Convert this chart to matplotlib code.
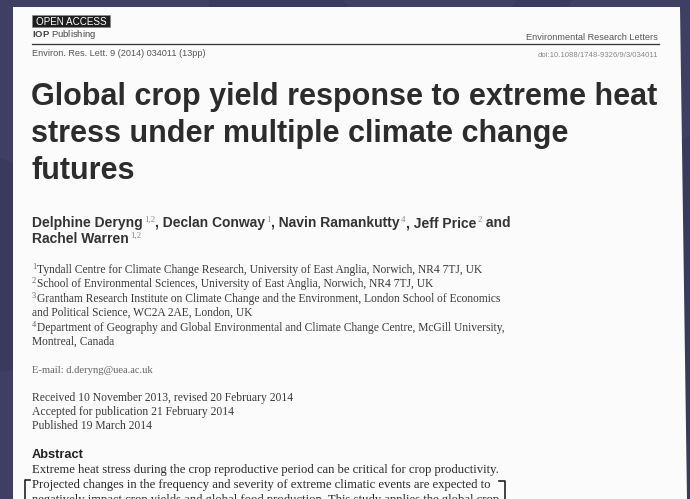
import matplotlib.pyplot as plt
from matplotlib.patches import Polygon, Circle, Rectangle

# text content of the page
header_left = [r"$\mathbf{IOP}$ Publishing", "Environ. Res. Lett. 9 (2014) 034011 (13pp)"]
header_right = ["Environmental Research Letters", "doi:10.1088/1748-9326/9/3/034011"]
title_lines = ["Global crop yield response to extreme heat",
               "stress under multiple climate change",
               "futures"]
# authors: (name, affiliation marks) per line
author_lines = [[("Delphine Deryng", "1,2"), (", Declan Conway", "1"),
                 (", Navin Ramankutty", "4"), (", Jeff Price", "2"), (" and", "")],
                [("Rachel Warren", "1,2")]]
affil_marks = ["1", "2", "3", "", "4", ""]
affil_lines = ["Tyndall Centre for Climate Change Research, University of East Anglia, Norwich, NR4 7TJ, UK",
               "School of Environmental Sciences, University of East Anglia, Norwich, NR4 7TJ, UK",
               "Grantham Research Institute on Climate Change and the Environment, London School of Economics",
               "and Political Science, WC2A 2AE, London, UK",
               "Department of Geography and Global Environmental and Climate Change Centre, McGill University,",
               "Montreal, Canada"]
email = "E-mail: d.deryng@uea.ac.uk"
dates = ["Received 10 November 2013, revised 20 February 2014",
         "Accepted for publication 21 February 2014",
         "Published 19 March 2014"]
abstract_lines = ["Extreme heat stress during the crop reproductive period can be critical for crop productivity.",
                  "Projected changes in the frequency and severity of extreme climatic events are expected to",
                  "negatively impact crop yields and global food production. This study applies the global crop"]

plt.rcParams['mathtext.fontset'] = 'custom'
plt.rcParams['mathtext.rm'] = 'Liberation Sans'
plt.rcParams['mathtext.bf'] = 'Liberation Sans:bold'

bg = '#3a3a5c'
fig = plt.figure(figsize=(6.9, 4.99), dpi=100, facecolor=bg)
ax = fig.add_axes([0, 0, 1, 1])
ax.set_xlim(0, 690)
ax.set_ylim(499, 0)
ax.axis('off')
ax.set_facecolor(bg)

# faint decorative circles behind the page
for cx, cy, r in [(60, 20, 150), (430, -50, 100), (640, 60, 90), (20, 480, 110)]:
    ax.add_patch(Circle((cx, cy), r, facecolor='#45456a', edgecolor='none', alpha=0.5, zorder=0))

# the page
ax.add_patch(Polygon([(13, 7), (680, 7), (687, 499), (13, 499)], closed=True,
                     facecolor='#fbfbfb', edgecolor='none', zorder=1))

sans = 'Liberation Sans'
serif = 'Liberation Serif'
grey = '#3a3a3a'

# header
ax.add_patch(Rectangle((32, 15), 78, 12, facecolor='#1e1e1e', edgecolor='#888', lw=0.5, zorder=2))
ax.text(71, 25, "OPEN ACCESS", color='white', fontsize=7.1, family=sans,
        ha='center', va='baseline', zorder=3)
ax.text(32, 37, header_left[0], color='#444', fontsize=6.8, family=sans, va='baseline', zorder=3)
ax.text(32, 56, header_left[1], color='#555', fontsize=6.6, family=sans, va='baseline', zorder=3)
ax.text(658, 40, header_right[0], color='#555', fontsize=6.6, family=sans, ha='right', va='baseline', zorder=3)
ax.text(658, 57, header_right[1], color='#888', fontsize=5.6, family=sans, ha='right', va='baseline', zorder=3)
ax.plot([32, 659], [43.5, 43.5], color='#333', lw=0.9, zorder=2)

# title
for i, line in enumerate(title_lines):
    ax.text(31, 105 + 37 * i, line, color='#2c2c2c', fontsize=22, family=sans,
            weight='bold', va='baseline', zorder=3)

# authors, each piece chained to the right of the previous one
for i, pieces in enumerate(author_lines):
    first = None
    prev = None
    for name, mark in pieces:
        if first is None:
            first = ax.text(32, 227 + 16 * i, name, color='#333', fontsize=10, family=sans,
                            weight='bold', va='baseline', zorder=3)
            prev = first
        else:
            prev = ax.annotate(name, xy=(1, 0), xycoords=(prev, first), xytext=(0.3, 0),
                               textcoords='offset points', color='#333', fontsize=10,
                               family=sans, weight='bold', va='bottom', zorder=3)
        if mark:
            prev = ax.annotate(mark, xy=(1, 0), xycoords=(prev, first), xytext=(0.8, 4.2),
                               textcoords='offset points', color='#888', fontsize=6.4,
                               family=serif, va='bottom', zorder=3)

# affiliations
for i, line in enumerate(affil_lines):
    y = 273 + 14.4 * i
    if affil_marks[i]:
        ax.text(32, y - 4, affil_marks[i], color='#666', fontsize=6, family=serif,
                va='baseline', zorder=3)
        ax.text(37, y, line, color=grey, fontsize=8.3, family=serif, va='baseline', zorder=3)
    else:
        ax.text(32, y, line, color=grey, fontsize=8.3, family=serif, va='baseline', zorder=3)

ax.text(32, 373, email, color='#666', fontsize=7.6, family=serif, va='baseline', zorder=3)

for i, line in enumerate(dates):
    ax.text(32, 401 + 14 * i, line, color=grey, fontsize=8.4, family=serif,
            va='baseline', zorder=3)

ax.text(32, 458, "Abstract", color='#222', fontsize=9.2, family=sans, weight='bold',
        va='baseline', zorder=3)
for i, line in enumerate(abstract_lines):
    ax.text(32, 473 + 15 * i, line, color='#2a2a2a', fontsize=9.1, family=serif,
            va='baseline', zorder=3)

# brackets around the quoted sentence
ax.plot([30, 25, 25], [480, 480, 499], color='#222', lw=1.2, zorder=3)
ax.plot([499, 505, 505], [481, 481, 499], color='#222', lw=1.2, zorder=3)

fig.savefig('out.png', dpi=100, facecolor=bg)
